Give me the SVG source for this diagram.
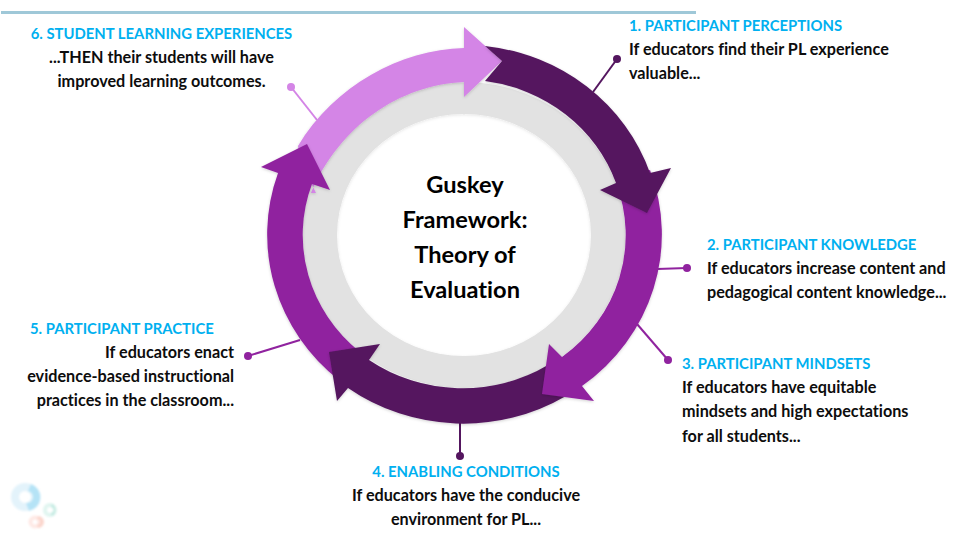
<svg xmlns="http://www.w3.org/2000/svg" width="960" height="540" viewBox="0 0 960 540">
<style>
text{font-family:"Lato","Carlito","Liberation Sans",sans-serif;font-weight:700;fill:#0d0d0d;font-size:16.2px;font-variant-ligatures:none}
.h{fill:#00b0f0;font-size:14.85px}
.m{text-anchor:middle}
.e{text-anchor:end}
.t{font-size:23.6px;text-anchor:middle;fill:#000}
.dark{fill:#54165f}
.mid{fill:#90239f}
.light{fill:#d485e6}
.ld{stroke:#54165f;stroke-width:2;fill:none}
.lm{stroke:#90239f;stroke-width:2;fill:none}
.ll{stroke:#d485e6;stroke-width:2;fill:none}
</style>
<defs>
<filter id="s" x="-10%" y="-10%" width="120%" height="120%"><feDropShadow dx="0" dy="1" stdDeviation="1.5" flood-color="#000" flood-opacity="0.18"/></filter>
<filter id="r" x="-10%" y="-10%" width="120%" height="120%"><feDropShadow dx="0" dy="1" stdDeviation="1.5" flood-color="#000" flood-opacity="0.1"/></filter>
<filter id="b" x="-20%" y="-20%" width="140%" height="140%"><feGaussianBlur stdDeviation="0.8"/></filter>
</defs>
<rect width="960" height="540" fill="#fff"/>
<rect id="topline" x="1" y="11" width="695" height="3" fill="#9fc8d8"/>
<g id="logo" fill="none" filter="url(#b)">
<circle cx="25" cy="497" r="10" stroke="#e3f3fb" stroke-width="8"/>
<path d="M31,484 A14,14 0 0 1 29,511 L26,503 A6,6 0 0 0 28,491 Z" fill="#b5e3f6"/>
<circle cx="50" cy="510" r="5" stroke="#e0f5f0" stroke-width="4"/>
<path d="M52,504 A7,7 0 0 1 52,516 L51,513 A3,3 0 0 0 51,507 Z" fill="#bde8df"/>
<circle cx="35" cy="522" r="4.500" stroke="#fee9e5" stroke-width="4"/>
<path d="M38,516 A6,6 0 0 1 38,528 L37,525 A3,3 0 0 0 37,519 Z" fill="#fbd5cc"/>
</g>
<g id="connectors">
<path class="ld" d="M593,92 L617,59"/><circle class="dark" cx="617" cy="59" r="4"/>
<path class="lm" d="M657,269 L687,268"/><circle class="mid" cx="687" cy="268" r="4"/>
<path class="lm" d="M637,324 L668,360"/><circle class="mid" cx="668" cy="360" r="4"/>
<path class="ld" d="M460,423 L460,456"/><circle class="dark" cx="460" cy="456" r="4"/>
<path class="lm" d="M300,340 L248,356"/><circle class="mid" cx="248" cy="356" r="4"/>
<path class="ll" d="M317,120 L291,87"/><circle class="light" cx="291" cy="87" r="4"/>
</g>
<g id="ring">
<path fill="#e2e2e2" fill-rule="evenodd" filter="url(#r)" d="M302.500,235 A161.500,153 0 1 1 625.500,235 A161.500,153 0 1 1 302.500,235 Z M337,235 A127,121 0 1 0 591,235 A127,121 0 1 0 337,235 Z"/>
</g>
<g id="arrow-6" filter="url(#s)">
<path class="light" d="M298,146 C335,85 400,50 464,48 L464,27 L502,61 L464,97 L464,82 C400,85 340,125 311,193 L316,193 L300,160 Z"/>
</g>
<g id="arrow-5" filter="url(#s)">
<path class="mid" d="M340,381 A197,188.500 0 0 1 278,173 L261,167 L307,144 L330,190 L312,184 A161.500,153 0 0 0 360,352 Z"/>
</g>
<g id="arrow-4" filter="url(#s)">
<path class="dark" d="M566,396 A197,188.500 0 0 1 348,388 L337,401 L329,352 L380,344 L369,360 A161.500,153 0 0 0 548,365 Z"/>
</g>
<g id="arrow-3" filter="url(#s)">
<path class="mid" d="M650,170 A197,188.500 0 0 1 582,386 L594,401 L542,394 L549,344 L562,357 A161.500,153 0 0 0 616,183 Z"/>
</g>
<g id="arrow-1" filter="url(#s)">
<path class="dark" d="M485,46 A197,188.500 0 0 1 650,173 L671,168 L647,213 L600,190 L616,183 A161.500,153 0 0 0 485,81 L502,61 Z"/>
</g>
<g id="center">
<text class="t" x="465" y="193">Guskey</text>
<text class="t" x="465" y="228">Framework:</text>
<text class="t" x="465" y="262.500">Theory of</text>
<text class="t" x="465" y="297.500">Evaluation</text>
</g>
<g id="node-1">
<text class="h" x="629" y="31">1. PARTICIPANT PERCEPTIONS</text>
<text x="629" y="55">If educators find their PL experience</text>
<text x="629" y="79">valuable...</text>
</g>
<g id="node-2">
<text class="h" x="707" y="250">2. PARTICIPANT KNOWLEDGE</text>
<text x="707" y="274">If educators increase content and</text>
<text x="707" y="298">pedagogical content knowledge...</text>
</g>
<g id="node-3">
<text class="h" x="682" y="369">3. PARTICIPANT MINDSETS</text>
<text x="682" y="393">If educators have equitable</text>
<text x="682" y="417">mindsets and high expectations</text>
<text x="682" y="442">for all students...</text>
</g>
<g id="node-4">
<text class="h m" x="466" y="477">4. ENABLING CONDITIONS</text>
<text class="m" x="466" y="501">If educators have the conducive</text>
<text class="m" x="466" y="525">environment for PL...</text>
</g>
<g id="node-5">
<text class="h" x="30" y="334">5. PARTICIPANT PRACTICE</text>
<text class="e" x="234" y="358">If educators enact</text>
<text class="e" x="234" y="382">evidence-based instructional</text>
<text class="e" x="234" y="406">practices in the classroom...</text>
</g>
<g id="node-6">
<text class="h m" x="161.500" y="39">6. STUDENT LEARNING EXPERIENCES</text>
<text class="m" x="161.500" y="63">...THEN their students will have</text>
<text class="m" x="161.500" y="87">improved learning outcomes.</text>
</g>
</svg>
